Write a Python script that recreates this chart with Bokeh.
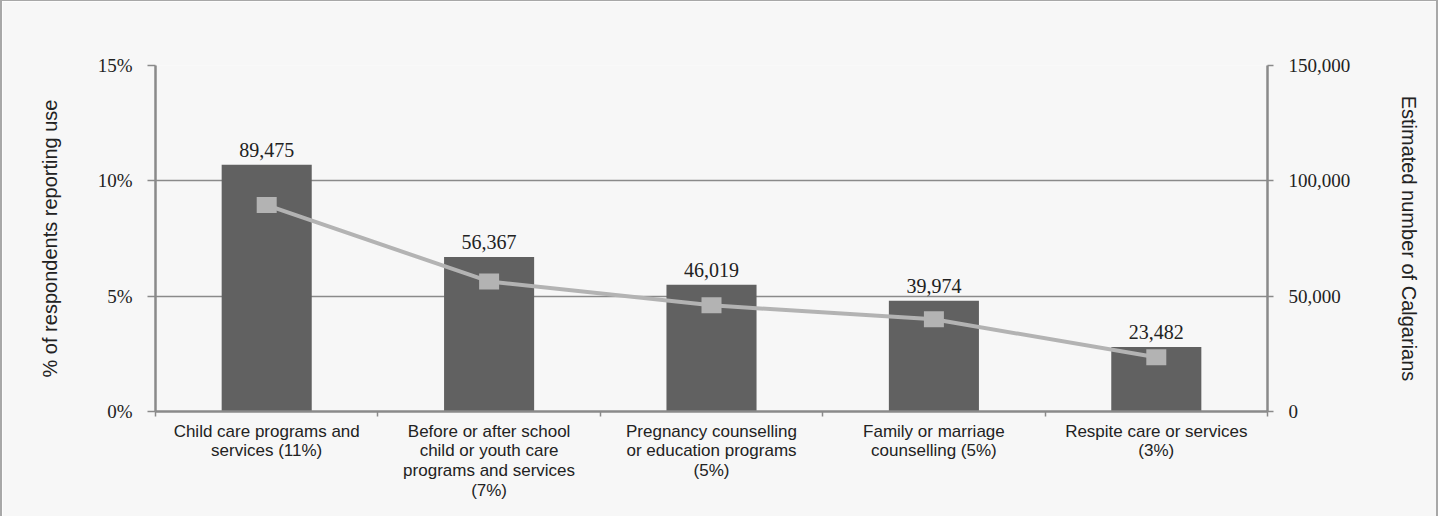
from bokeh.plotting import figure
from bokeh.models import (Range1d, LinearAxis, FixedTicker, PrintfTickFormatter,
                          NumeralTickFormatter, ColumnDataSource)
from bokeh.core.properties import value
from bokeh.embed import file_html
from bokeh.resources import INLINE

categories = ["Child care programs and services (11%)",
              "Before or after school child or youth care programs and services (7%)",
              "Pregnancy counselling or education programs (5%)",
              "Family or marriage counselling (5%)",
              "Respite care or services (3%)"]
tick_labels = ["Child care programs and\nservices (11%)",
               "Before or after school\nchild or youth care\nprograms and services\n(7%)",
               "Pregnancy counselling\nor education programs\n(5%)",
               "Family or marriage\ncounselling (5%)",
               "Respite care or services\n(3%)"]
pct_use = [10.7, 6.7, 5.5, 4.8, 2.8]
est_count = [89475, 56367, 46019, 39974, 23482]
count_labels = ["89,475", "56,367", "46,019", "39,974", "23,482"]
left_ticks = [0, 5, 10, 15]
right_ticks = [0, 50000, 100000, 150000]

xs = [i + 0.5 for i in range(len(categories))]
src = ColumnDataSource(dict(x=xs, pct=pct_use, cnt=est_count, lab=count_labels))

BG = "#f7f7f7"
AX = "#8a8a8a"
serif = "Liberation Serif"
sans = "Liberation Sans"
TXT = "#222222"

p = figure(width=1438, height=516, output_backend="svg", toolbar_location=None,
           x_range=Range1d(0, len(categories)), y_range=Range1d(0, 15),
           background_fill_color=BG, border_fill_color=BG,
           min_border_left=153, min_border_right=173, min_border_top=64,
           min_border_bottom=106)
p.styles = {"border-left": "2px solid #a8a8a8", "border-right": "2px solid #a8a8a8",
            "border-top": "1px solid #a8a8a8"}
p.outline_line_color = None
p.xgrid.visible = False
p.ygrid.ticker = FixedTicker(ticks=left_ticks)
p.ygrid.grid_line_color = AX
p.ygrid.grid_line_width = 1.5

p.extra_y_ranges = {"cnt": Range1d(0, 150000)}

p.vbar(x="x", top="pct", width=0.405, source=src, fill_color="#616161", line_color=None)
p.line(x="x", y="cnt", source=src, y_range_name="cnt", line_color="#b3b3b3", line_width=4)
p.rect(x="x", y="cnt", width=20, height=16, width_units="screen", height_units="screen",
       source=src, y_range_name="cnt", fill_color="#b3b3b3", line_color=None)
p.text(x="x", y="pct", text="lab", source=src, text_align="center", text_baseline="bottom",
       y_offset=-8, text_font=value(serif), text_font_size="20px", text_color=TXT)

# left axis
ya = p.yaxis[0]
ya.ticker = FixedTicker(ticks=left_ticks)
ya.formatter = PrintfTickFormatter(format="%d%%")
ya.axis_label = "% of respondents reporting use"

# right axis
ra = LinearAxis(y_range_name="cnt", ticker=FixedTicker(ticks=right_ticks),
                formatter=NumeralTickFormatter(format="0,0"),
                axis_label="Estimated number of Calgarians")
p.add_layout(ra, "right")

for ax in (ya, ra):
    ax.axis_line_color = AX
    ax.axis_line_width = 2.5
    ax.major_tick_line_color = AX
    ax.major_tick_line_width = 1.5
    ax.major_tick_in = 0
    ax.minor_tick_line_color = None
    ax.major_label_text_font = serif
    ax.major_label_text_font_size = "19px"
    ax.major_label_text_color = TXT
    ax.axis_label_text_font = sans
    ax.axis_label_text_font_size = "20px"
    ax.axis_label_text_font_style = "normal"
    ax.axis_label_text_color = TXT
ya.major_tick_out = 8
ya.major_label_standoff = 15
ya.axis_label_standoff = 34
ra.major_tick_out = 6
ra.major_label_standoff = 15
ra.axis_label_standoff = 45

# bottom axis
xa = p.xaxis[0]
xa.ticker = FixedTicker(ticks=xs, minor_ticks=list(range(len(categories) + 1)))
xa.major_label_overrides = {x: t for x, t in zip(xs, tick_labels)}
xa.axis_line_color = AX
xa.axis_line_width = 2.5
xa.major_tick_line_color = None
xa.minor_tick_line_color = AX
xa.minor_tick_line_width = 1.5
xa.minor_tick_out = 5
xa.minor_tick_in = 0
xa.major_label_text_font = sans
xa.major_label_text_font_size = "17px"
xa.major_label_text_color = TXT
xa.major_label_text_line_height = 1.05
xa.major_label_standoff = 4

open("out.html", "w").write(file_html(p, INLINE))
